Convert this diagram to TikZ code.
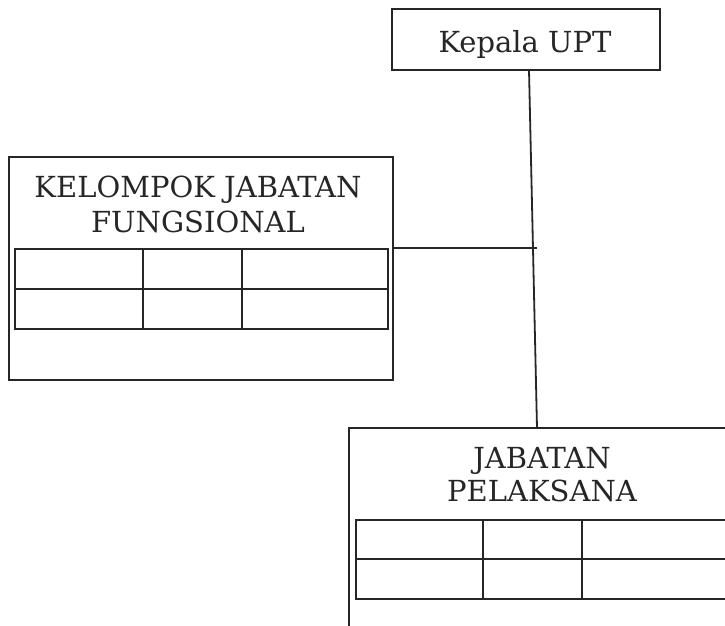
\documentclass[tikz,border=0pt]{standalone}
\usepackage{fontspec}
\setmainfont{DejaVu Serif}
\begin{document}
\begin{tikzpicture}[x=1pt,y=-1pt,
  box/.style={draw=black!85, line width=1.8pt, rectangle, inner sep=0pt},
  grid/.style={draw=black!85, line width=1.6pt},
  conn/.style={draw=black!85, line width=1.8pt},
  lbl/.style={font=\fontsize{29}{34}\selectfont, text=black!85, inner sep=0pt, anchor=base}]
\useasboundingbox (0,0) rectangle (725,625);
\clip (0,0) rectangle (725,625);
% Kepala UPT
\node[box, minimum width=268pt, minimum height=61pt] (kepala) at (526,39.5) {};
\node[lbl] (kepalaT) at (525,52) {Kepala UPT};
% Kelompok Jabatan Fungsional
\node[box, minimum width=384pt, minimum height=223pt] (kjf) at (201,268.5) {};
\node[lbl] (kjf1) at (198,197) {KELOMPOK JABATAN};
\node[lbl] (kjf2) at (198,232) {FUNGSIONAL};
\draw[grid] (15,249) rectangle (388,329);
\draw[grid] (15,289) -- (388,289);
\draw[grid] (143,249) -- (143,329);
\draw[grid] (242,249) -- (242,329);
% Jabatan Pelaksana
\node[box, minimum width=411pt, minimum height=232pt] (jp) at (554.5,544) {};
\node[lbl] (jp1) at (542,468) {JABATAN};
\node[lbl] (jp2) at (542,501) {PELAKSANA};
\draw[grid] (356,520) rectangle (760,599);
\draw[grid] (356,559) -- (760,559);
\draw[grid] (483,520) -- (483,599);
\draw[grid] (582,520) -- (582,599);
% connectors
\coordinate (a) at (529,70);
\coordinate (b) at (537,428);
\coordinate (h) at (537,248);
\draw[conn] (a) -- (b);
\draw[conn] (kjf.east |- h) -- (h);
\end{tikzpicture}
\end{document}
